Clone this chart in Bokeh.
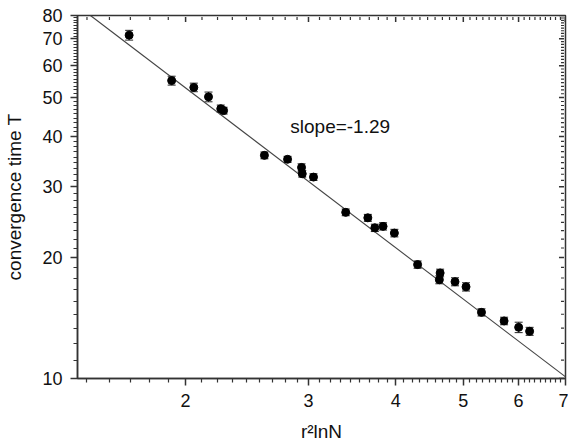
import numpy as np
from bokeh.plotting import figure
from bokeh.models import (Range1d, FixedTicker, PrintfTickFormatter,
                          Whisker, ColumnDataSource, Label, TeeHead)
from bokeh.embed import file_html
from bokeh.resources import INLINE

# ---- data ----
x_vals = [1.66, 1.91, 2.055, 2.157, 2.246, 2.267, 2.594, 2.80, 2.932, 2.939,
          3.05, 3.392, 3.649, 3.734, 3.837, 3.983, 4.30, 4.632, 4.62, 4.865,
          5.045, 5.309, 5.72, 6.002, 6.223]
y_vals = [71.5, 55.1, 53.0, 50.2, 46.9, 46.4, 35.9, 35.1, 33.5, 32.3,
          31.7, 25.9, 25.1, 23.7, 23.9, 23.0, 19.2, 18.3, 17.6, 17.4,
          16.9, 14.6, 13.9, 13.4, 13.1]
y_err = [2.0, 1.4, 1.3, 1.4, 1.0, 0.9, 0.7, 0.6, 0.7, 0.6,
         0.6, 0.5, 0.5, 0.5, 0.5, 0.5, 0.4, 0.4, 0.4, 0.4,
         0.4, 0.3, 0.3, 0.4, 0.3]
fit_x = [1.461, 7.0]
fit_y = [80.0, 10.1]
slope_text = "slope=-1.29"
x_title = "r²lnN"
y_title = "convergence time T"
x_ticks = [2, 3, 4, 5, 6, 7]
y_ticks = [10, 20, 30, 40, 50, 60, 70, 80]

x_minor = [n + k / 9 for n in range(1, 7) for k in range(1, 9) if 1.4 <= n + k / 9 <= 7]
y_minor = [m + k * 10 / 9 for m in range(10, 80, 10) for k in range(1, 9)]

X0, X1 = 1.4, 7.005
Y0, Y1 = 9.995, 80.02

FONT = "Liberation Sans"
AX = "#333333"
TXT = "#111111"

p = figure(width=568, height=444, x_axis_type="log", y_axis_type="log",
           x_range=Range1d(X0, X1), y_range=Range1d(Y0, Y1),
           output_backend="svg", toolbar_location=None,
           min_border_left=77, min_border_right=3, min_border_top=15,
           min_border_bottom=65)
p.grid.visible = False
p.outline_line_color = AX
p.outline_line_width = 1.5
p.background_fill_color = "white"
p.border_fill_color = "white"

def style(ax, ticker, standoff, title, title_standoff):
    ax.ticker = ticker
    ax.formatter = PrintfTickFormatter(format="%d")
    ax.axis_line_width = 1.5
    ax.axis_line_color = AX
    ax.major_tick_line_color = AX
    ax.minor_tick_line_color = AX
    ax.major_tick_line_width = 1.5
    ax.minor_tick_line_width = 1.2
    ax.major_tick_in = 0
    ax.major_tick_out = 7
    ax.minor_tick_in = 0
    ax.minor_tick_out = 4
    ax.major_label_text_font = FONT
    ax.major_label_text_font_size = "18px"
    ax.major_label_text_color = TXT
    ax.major_label_standoff = standoff
    ax.axis_label = title
    ax.axis_label_text_font = FONT
    ax.axis_label_text_font_size = "19px"
    ax.axis_label_text_font_style = "normal"
    ax.axis_label_text_color = TXT
    ax.axis_label_standoff = title_standoff

style(p.xaxis[0], FixedTicker(ticks=x_ticks, minor_ticks=x_minor), 8, x_title, 11)
style(p.yaxis[0], FixedTicker(ticks=y_ticks, minor_ticks=y_minor), 8, y_title, 14)

# inward ticks on the top and right frame edges, drawn as short screen-length rays
# (started a little inside the frame so that they are not culled at the edge)
yt_edge = Y1 * 0.992
xt_edge = X1 * 0.995
p.ray(x=x_ticks, y=[yt_edge] * len(x_ticks), length=5, length_units="screen",
      angle=-np.pi / 2, line_color=AX, line_width=1.5)
p.ray(x=x_minor, y=[yt_edge] * len(x_minor), length=3, length_units="screen",
      angle=-np.pi / 2, line_color=AX, line_width=1.2)
p.ray(x=[xt_edge] * len(y_ticks), y=y_ticks, length=5, length_units="screen",
      angle=np.pi, line_color=AX, line_width=1.5)
p.ray(x=[xt_edge] * len(y_minor), y=y_minor, length=3, length_units="screen",
      angle=np.pi, line_color=AX, line_width=1.2)

# fit line
p.line(fit_x, fit_y, line_color="#444444", line_width=1.1)

# error bars
y_lo = [y - e for y, e in zip(y_vals, y_err)]
y_hi = [y + e for y, e in zip(y_vals, y_err)]
src = ColumnDataSource(dict(x=x_vals, y=y_vals, lo=y_lo, hi=y_hi))
w = Whisker(source=src, base="x", lower="lo", upper="hi", dimension="height",
            line_color="#222222", line_width=1,
            upper_head=TeeHead(size=8, line_color="#222222", line_width=1),
            lower_head=TeeHead(size=8, line_color="#222222", line_width=1))
p.add_layout(w)

p.scatter("x", "y", source=src, size=8, fill_color="black", line_color="black")

# slope annotation
p.add_layout(Label(x=2.825, y=42.4, text=slope_text, text_font=FONT,
                   text_font_size="19px", text_baseline="middle", text_color=TXT))

open("out.html", "w").write(file_html(p, INLINE))
